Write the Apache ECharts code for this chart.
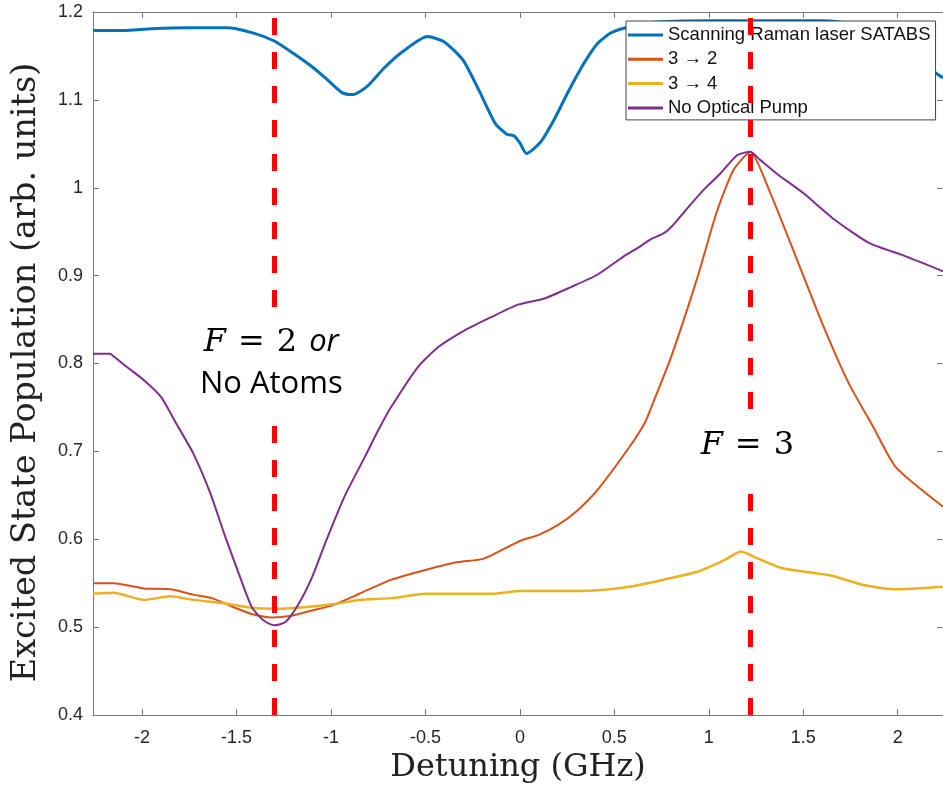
<!DOCTYPE html>
<html>
<head>
<meta charset="utf-8">
<script src="https://cdn.jsdelivr.net/npm/echarts@6/dist/echarts.min.js"></script>
<style>
  html, body { margin: 0; padding: 0; background: #fff; }
  #main { width: 943px; height: 796px; }
</style>
</head>
<body>
<div id="main"></div>
<script>
// detuning ticks (GHz)
const xTicks = [-2, -1.5, -1, -0.5, 0, 0.5, 1, 1.5, 2];

// Scanning Raman laser SATABS
const satX = [-2.26, -2.1, -1.95, -1.75, -1.55, -1.41, -1.3, -1.2, -1.09, -1.02, -0.94, -0.885, -0.81, -0.72, -0.62, -0.49, -0.4, -0.3, -0.21, -0.13, -0.07, -0.03, 0.0, 0.035, 0.11, 0.18, 0.26, 0.34, 0.41, 0.48, 0.54, 0.7, 1.0, 1.3, 1.6, 1.8, 1.95, 2.1, 2.24];
const satY = [1.179, 1.179, 1.181, 1.182, 1.182, 1.176, 1.167, 1.153, 1.136, 1.123, 1.108, 1.106, 1.115, 1.136, 1.155, 1.172, 1.166, 1.145, 1.108, 1.073, 1.061, 1.059, 1.051, 1.039, 1.052, 1.077, 1.111, 1.142, 1.164, 1.176, 1.181, 1.188, 1.19, 1.19, 1.19, 1.185, 1.17, 1.145, 1.125];

// 3 -> 2
const p32X = [-2.26, -2.15, -1.99, -1.85, -1.73, -1.63, -1.52, -1.42, -1.31, -1.21, -1.1, -0.99, -0.85, -0.68, -0.5, -0.33, -0.19, 0.0, 0.1, 0.2, 0.3, 0.41, 0.58, 0.66, 0.71, 0.8, 0.94, 1.04, 1.13, 1.22, 1.32, 1.46, 1.6, 1.74, 1.87, 1.99, 2.24];
const p32Y = [0.55, 0.55, 0.544, 0.543, 0.537, 0.533, 0.523, 0.515, 0.511, 0.513, 0.519, 0.525, 0.538, 0.554, 0.565, 0.574, 0.578, 0.598, 0.605, 0.616, 0.632, 0.656, 0.705, 0.732, 0.758, 0.807, 0.898, 0.971, 1.02, 1.041, 0.997, 0.922, 0.846, 0.778, 0.728, 0.682, 0.637];

// 3 -> 4
const p34X = [-2.26, -2.15, -1.99, -1.85, -1.73, -1.56, -1.42, -1.27, -1.13, -0.99, -0.85, -0.68, -0.5, -0.33, -0.15, 0.0, 0.2, 0.41, 0.58, 0.76, 0.94, 1.08, 1.17, 1.25, 1.39, 1.64, 1.82, 1.99, 2.24];
const p34Y = [0.538, 0.539, 0.531, 0.535, 0.531, 0.527, 0.522, 0.521, 0.523, 0.526, 0.531, 0.533, 0.538, 0.538, 0.538, 0.541, 0.541, 0.542, 0.546, 0.554, 0.563, 0.576, 0.586, 0.579, 0.567, 0.559, 0.548, 0.543, 0.546];

// No Optical Pump
const noPumpX = [-2.26, -2.17, -2.15, -2.08, -1.99, -1.9, -1.82, -1.73, -1.64, -1.56, -1.49, -1.42, -1.36, -1.3, -1.24, -1.17, -1.1, -1.03, -0.93, -0.82, -0.75, -0.68, -0.54, -0.43, -0.29, -0.15, -0.01, 0.13, 0.27, 0.41, 0.55, 0.62, 0.69, 0.76, 0.8, 0.88, 0.97, 1.06, 1.15, 1.22, 1.27, 1.36, 1.5, 1.67, 1.85, 2.03, 2.24];
const noPumpY = [0.811, 0.811, 0.808, 0.796, 0.781, 0.762, 0.732, 0.698, 0.653, 0.603, 0.562, 0.523, 0.508, 0.502, 0.506, 0.527, 0.557, 0.596, 0.648, 0.694, 0.724, 0.751, 0.796, 0.819, 0.838, 0.853, 0.867, 0.874, 0.887, 0.901, 0.922, 0.931, 0.941, 0.948, 0.955, 0.975, 0.997, 1.016, 1.037, 1.041, 1.032, 1.016, 0.994, 0.963, 0.937, 0.923, 0.905];

// dashed marker positions (GHz)
const F2_X = -1.3;
const F3_X = 1.22;

const zip = (xs, ys) => xs.map((x, i) => [x, ys[i]]);

const axisGrey = '#777';
const labelFont = { fontFamily: 'Liberation Sans', fontSize: 18, color: '#262626' };

const lineSeries = (name, xs, ys, color, width) => ({
  name,
  type: 'line',
  data: zip(xs, ys),
  symbol: 'none',
  smooth: 0.2,
  lineStyle: { color, width },
  itemStyle: { color },
  animation: false
});

const frameAxis = (extra) => Object.assign({
  type: 'value',
  axisLine: { show: true, onZero: false, lineStyle: { color: axisGrey, width: 1 } },
  axisTick: { inside: true, length: 6, lineStyle: { color: axisGrey } },
  axisLabel: { show: false },
  splitLine: { show: false }
}, extra);

const option = {
  backgroundColor: '#fff',
  animation: false,
  grid: { left: 93, top: 12, right: -5, bottom: 81, containLabel: false },
  xAxis: [
    frameAxis({
      min: -2.26,
      max: 2.24,
      name: 'Detuning (GHz)',
      nameLocation: 'center',
      nameGap: 36,
      nameTextStyle: { fontFamily: 'DejaVu Serif', fontSize: 32, color: '#222' },
      axisTick: { inside: true, length: 6, lineStyle: { color: axisGrey }, customValues: xTicks },
      axisLabel: Object.assign({ margin: 14, customValues: xTicks, formatter: v => String(v) }, labelFont)
    }),
    frameAxis({
      position: 'top',
      min: -2.26,
      max: 2.24,
      axisTick: { inside: true, length: 6, lineStyle: { color: axisGrey }, customValues: xTicks }
    })
  ],
  yAxis: [
    frameAxis({
      min: 0.4,
      max: 1.2,
      interval: 0.1,
      name: 'Excited State Population (arb. units)',
      nameLocation: 'center',
      nameGap: 50,
      nameTextStyle: { fontFamily: 'DejaVu Serif', fontSize: 33.5, color: '#222', padding: [0, 0, 0, -18] },
      axisLabel: Object.assign({ margin: 10, formatter: v => String(+v.toFixed(1)) }, labelFont)
    }),
    frameAxis({
      position: 'right',
      min: 0.4,
      max: 1.2,
      interval: 0.1
    })
  ],
  legend: {
    orient: 'vertical',
    left: 626,
    top: 21,
    padding: [4, 5, 2, 2],
    itemGap: 4.3,
    itemWidth: 35,
    itemHeight: 3,
    icon: 'rect',
    backgroundColor: '#fff',
    borderColor: '#444',
    borderWidth: 1,
    borderRadius: 0,
    textStyle: { fontFamily: 'Liberation Sans', fontSize: 18.5, color: '#111', lineHeight: 20 },
    data: ['Scanning Raman laser SATABS', '3 \u2192 2', '3 \u2192 4', 'No Optical Pump']
  },
  series: [
    lineSeries('Scanning Raman laser SATABS', satX, satY, '#0072BD', 3),
    lineSeries('3 \u2192 2', p32X, p32Y, '#D95319', 2),
    lineSeries('3 \u2192 4', p34X, p34Y, '#EDB120', 2.5),
    lineSeries('No Optical Pump', noPumpX, noPumpY, '#7E2F8E', 2),
    {
      name: 'markers',
      type: 'line',
      data: [],
      z: 5,
      silent: true,
      markLine: {
        symbol: 'none',
        silent: true,
        animation: false,
        label: { show: false },
        lineStyle: { color: '#FF0000', width: 5, type: [17, 17] },
        data: [{ xAxis: F2_X }, { xAxis: F3_X }]
      }
    }
  ]
};

const chart = echarts.init(document.getElementById('main'));
chart.setOption(option);

// annotations next to the dashed lines
const p2 = chart.convertToPixel({ gridIndex: 0 }, [F2_X, 0.8]);
const p3 = chart.convertToPixel({ gridIndex: 0 }, [F3_X, 0.705]);
const rich = {
  f: { fontFamily: 'DejaVu Serif', fontStyle: 'italic', fontSize: 32, color: '#111' },
  m: { fontFamily: 'DejaVu Serif', fontSize: 32, color: '#111' },
  s: { fontFamily: 'DejaVu Serif', fontSize: 32, width: 12 },
  o: { fontFamily: 'Open Sans', fontStyle: 'italic', fontSize: 31, color: '#111' },
  t: { fontFamily: 'Open Sans', fontSize: 31, color: '#111' }
};
chart.setOption({
  graphic: [
    {
      type: 'text',
      x: p2[0] - 3,
      y: p2[1],
      z: 100,
      style: {
        text: '{f|F}{s| }{m|=}{s| }{m|2}{s| }{o|or}\n{t|No Atoms}',
        rich,
        align: 'center',
        verticalAlign: 'middle',
        lineHeight: 42,
        backgroundColor: '#fff',
        padding: [14, 4, 14, 4]
      }
    },
    {
      type: 'text',
      x: p3[0] - 3,
      y: p3[1],
      z: 100,
      style: {
        text: '{f|F}{s| }{m|=}{s| }{m|3}',
        rich,
        align: 'center',
        verticalAlign: 'middle',
        lineHeight: 40,
        backgroundColor: '#fff',
        padding: [10, 4, 12, 4]
      }
    }
  ]
});
</script>
</body>
</html>
